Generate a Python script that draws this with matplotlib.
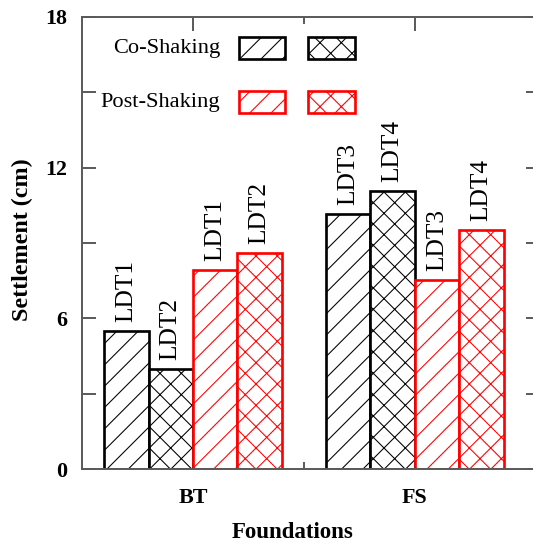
import matplotlib
matplotlib.use("Agg")
import matplotlib.pyplot as plt
import numpy as np
from matplotlib import ticker
from matplotlib.patches import Rectangle

plt.rcParams["font.family"] = ["Liberation Serif", "DejaVu Serif"]
plt.rcParams["hatch.linewidth"] = 0.6

# Data (settlement in cm)
foundations = ["BT", "FS"]
co_first = [5.5, 10.17]
co_second = [4.0, 11.08]
post_first = [7.92, 7.53]
post_second = [8.6, 9.51]
first_labels = ["LDT1", "LDT3"]
second_labels = ["LDT2", "LDT4"]
row_labels = ["Co-Shaking", "Post-Shaking"]

DPI = 128
W, H = 533, 551
SPINE = "#5a5a5a"

fig = plt.figure(figsize=(W / DPI, H / DPI), dpi=DPI)
# axes box in pixels: left 82, right ~540 (cropped off), top 16.7, bottom 469.3
ax = fig.add_axes([82 / W, (H - 469.3) / H, (540 - 82) / W, 452.6 / H])

x = np.arange(len(foundations))
width = 0.2
series = [
    (co_first, first_labels, "black", "//"),
    (co_second, second_labels, "black", "xx"),
    (post_first, first_labels, "red", "//"),
    (post_second, second_labels, "red", "xx"),
]

for j, (vals, labels, color, hatch) in enumerate(series):
    pos = x + (j - 1.5) * width
    ax.bar(pos, vals, width, facecolor="white", edgecolor=color,
           hatch=hatch, linewidth=1.5, zorder=2)
    for xp, v, lab in zip(pos, vals, labels):
        ax.annotate(lab, (xp, v), xytext=(0, 5), textcoords="offset points",
                    rotation=90, ha="center", va="bottom", fontsize=14.3)

ax.set_xlim(-0.5, (540 - 193.5) / 221.5)
ax.set_ylim(0, 18)
ax.set_axisbelow(True)

ax.set_xticks(x)
ax.set_xticklabels(foundations, fontsize=12.4, fontweight="bold")
ax.xaxis.set_minor_locator(ticker.FixedLocator([0.5]))
ax.set_yticks([0, 6, 12, 18])
ax.set_yticklabels(["0", "6", "12", "18"], fontsize=12.4, fontweight="bold")
ax.yaxis.set_minor_locator(ticker.MultipleLocator(3))

ax.tick_params(axis="x", which="major", direction="in", length=7.9, width=1.1,
               color=SPINE, top=True, pad=10.5)
ax.tick_params(axis="x", which="minor", direction="in", length=3.9, width=1.1,
               color=SPINE, top=True)
ax.tick_params(axis="y", which="both", direction="in", length=7.9, width=1.1,
               color=SPINE, right=True, pad=8.4)
for sp in ax.spines.values():
    sp.set_color(SPINE)
    sp.set_linewidth(1.1)

fig.text(293 / W, 1 - 533 / H, "Foundations", ha="center", va="center",
         fontsize=12.9, fontweight="bold")
fig.text(22 / W, 1 - 240 / H, "Settlement (cm)", ha="center", va="center",
         rotation=90, fontsize=13.5, fontweight="bold")

# legend block (row text + two hatched boxes per row)
rows = [(48, "black"), (102, "red")]
for (yc, color), lab in zip(rows, row_labels):
    fig.text(220 / W, 1 - yc / H, lab, ha="right", va="center", fontsize=12.6)
    for x0, hatch in [(238.5, "//"), (308, "xx")]:
        fig.add_artist(Rectangle((x0 / W, 1 - (yc + 11) / H), 46.5 / W, 22 / H,
                                 transform=fig.transFigure, facecolor="white",
                                 edgecolor=color, hatch=hatch, linewidth=1.5))

fig.savefig("out.png", dpi=DPI)
